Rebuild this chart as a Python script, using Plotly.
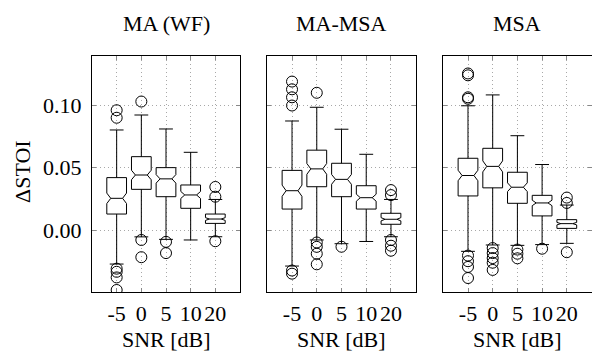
import plotly.graph_objects as go

# ---------------- data ----------------
snr_labels = ["-5", "0", "5", "10", "20"]
panel_titles = ["MA (WF)", "MA-MSA", "MSA"]
y_tick_vals = [-0.05, 0.0, 0.05, 0.10]
y_tick_text = ["\u22120.05", "0.00", "0.05", "0.10"]

# MA (WF)
ma_q1 = [0.0128, 0.0326, 0.0267, 0.0174, 0.0053]
ma_med = [0.0254, 0.0441, 0.0410, 0.0281, 0.0088]
ma_q3 = [0.0420, 0.0588, 0.0500, 0.0361, 0.0128]
ma_lo = [-0.0273, -0.0055, -0.0075, -0.0080, -0.0054]
ma_hi = [0.0802, 0.0922, 0.0810, 0.0623, 0.0245]
ma_notch = [0.0042, 0.0038, 0.0034, 0.0028, 0.0011]
ma_out = [[0.0960, 0.0900, -0.0310, -0.0335, -0.0380, -0.0481],
          [0.1030, -0.0080, -0.0218],
          [-0.0095, -0.0185],
          [],
          [0.0345, 0.0267, -0.0090]]

# MA-MSA
mams_q1 = [0.0168, 0.0347, 0.0267, 0.0168, 0.0046]
mams_med = [0.0315, 0.0490, 0.0406, 0.0259, 0.0086]
mams_q3 = [0.0478, 0.0640, 0.0535, 0.0355, 0.0134]
mams_lo = [-0.0289, -0.0080, -0.0110, -0.0092, -0.0054]
mams_hi = [0.0874, 0.0984, 0.0808, 0.0607, 0.0245]
mams_notch = [0.0045, 0.0043, 0.0039, 0.0028, 0.0013]
mams_out = [[0.1190, 0.1128, 0.1064, 0.0998, -0.0325, -0.0350],
            [0.1100, -0.0100, -0.0135, -0.0190, -0.0275],
            [-0.0134],
            [],
            [0.0320, 0.0280, -0.0080, -0.0126, -0.0166]]

# MSA
msa_q1 = [0.0273, 0.0338, 0.0214, 0.0113, 0.0013]
msa_med = [0.0437, 0.0510, 0.0343, 0.0217, 0.0051]
msa_q3 = [0.0575, 0.0655, 0.0463, 0.0278, 0.0083]
msa_lo = [-0.0171, -0.0120, -0.0123, -0.0117, -0.0107]
msa_hi = [0.0996, 0.1083, 0.0756, 0.0525, 0.0200]
msa_notch = [0.0042, 0.0044, 0.0035, 0.0022, 0.0010]
msa_out = [[0.1255, 0.1240, 0.1064, 0.1052, -0.0205, -0.0250, -0.0296, -0.0385],
           [-0.0145, -0.0185, -0.0225, -0.0262, -0.0320],
           [-0.0157, -0.0190, -0.0227],
           [-0.0150],
           [0.0260, 0.0217, -0.0178]]

panels = [
    (ma_q1, ma_med, ma_q3, ma_lo, ma_hi, ma_notch, ma_out),
    (mams_q1, mams_med, mams_q3, mams_lo, mams_hi, mams_notch, mams_out),
    (msa_q1, msa_med, msa_q3, msa_lo, msa_hi, msa_notch, msa_out),
]

# ---------------- layout geometry ----------------
W, H = 592, 351
x_px = [(92, 240), (267.3, 415.7), (443.3, 591.5)]
y_top, y_bot = 55.5, 292.0
FONT = "Times New Roman"
FS = 22
GRID = "#a8a8a8"

fig = go.Figure()
positions = list(range(len(snr_labels)))

for i, (q1, med, q3, lo, hi, nspan, outl) in enumerate(panels):
    xa = "x" if i == 0 else f"x{i+1}"
    ya = "y" if i == 0 else f"y{i+1}"
    fig.add_trace(go.Box(
        x=positions, q1=q1, median=med, q3=q3,
        lowerfence=lo, upperfence=hi, notchspan=nspan,
        notched=True, notchwidth=0.2, boxpoints=False,
        width=0.8, whiskerwidth=0.7,
        fillcolor="white", line=dict(color="black", width=1),
        xaxis=xa, yaxis=ya, hoverinfo="skip",
    ))
    ox, oy = [], []
    for p, vals in zip(positions, outl):
        for v in vals:
            ox.append(p)
            oy.append(v)
    fig.add_trace(go.Scatter(
        x=ox, y=oy, mode="markers",
        marker=dict(symbol="circle-open", size=11, color="black",
                    line=dict(width=1, color="black")),
        xaxis=xa, yaxis=ya, hoverinfo="skip",
    ))

fig.update_layout(
    width=W, height=H,
    margin=dict(l=0, r=0, t=0, b=0),
    paper_bgcolor="white", plot_bgcolor="white",
    showlegend=False,
    font=dict(family=FONT, size=FS),
)

for i in range(3):
    suffix = "" if i == 0 else str(i + 1)
    x0, x1 = x_px[i]
    xaxis = dict(
        domain=[x0 / W, x1 / W], anchor="y" + suffix,
        range=[-1, 5], tickvals=positions, ticktext=snr_labels,
        showgrid=True, gridcolor=GRID, griddash="1px,3px", gridwidth=1,
        zeroline=False, showline=True, linecolor="black", linewidth=1,
        mirror="ticks", ticks="inside", ticklen=4, tickcolor="#888888",
        tickfont=dict(family=FONT, size=FS, color="black"),
        ticklabelstandoff=2,
    )
    yaxis = dict(
        domain=[1 - y_bot / H, 1 - y_top / H], anchor="x" + suffix,
        range=[-0.0497, 0.1399], tickvals=y_tick_vals, ticktext=y_tick_text,
        showticklabels=(i == 0),
        showgrid=True, gridcolor=GRID, griddash="1px,3px", gridwidth=1,
        zeroline=False, showline=True, linecolor="black", linewidth=1,
        mirror="ticks", ticks="inside", ticklen=4, tickcolor="#888888",
        tickfont=dict(family=FONT, size=FS, color="black"),
        ticklabelstandoff=5,
    )
    if i > 0:
        yaxis["matches"] = "y"
    fig.update_layout({"xaxis" + suffix: xaxis, "yaxis" + suffix: yaxis})
    xc = (x0 + x1) / 2 / W
    fig.add_annotation(text=panel_titles[i], x=xc, y=1 - 24 / H,
                       xref="paper", yref="paper", showarrow=False,
                       xanchor="center", yanchor="middle",
                       font=dict(family=FONT, size=FS, color="black"))
    fig.add_annotation(text="SNR [dB]", x=xc, y=1 - 339 / H,
                       xref="paper", yref="paper", showarrow=False,
                       xanchor="center", yanchor="middle",
                       font=dict(family=FONT, size=FS, color="black"))

fig.add_annotation(text="\u0394STOI", x=22 / W, y=1 - 172 / H,
                   xref="paper", yref="paper", showarrow=False,
                   textangle=-90, xanchor="center", yanchor="middle",
                   font=dict(family=FONT, size=FS, color="black"))

fig.write_html("out.html",
               config={"displayModeBar": False},
               post_script="document.body.style.margin='0';"
                           "document.body.style.overflow='hidden';")
